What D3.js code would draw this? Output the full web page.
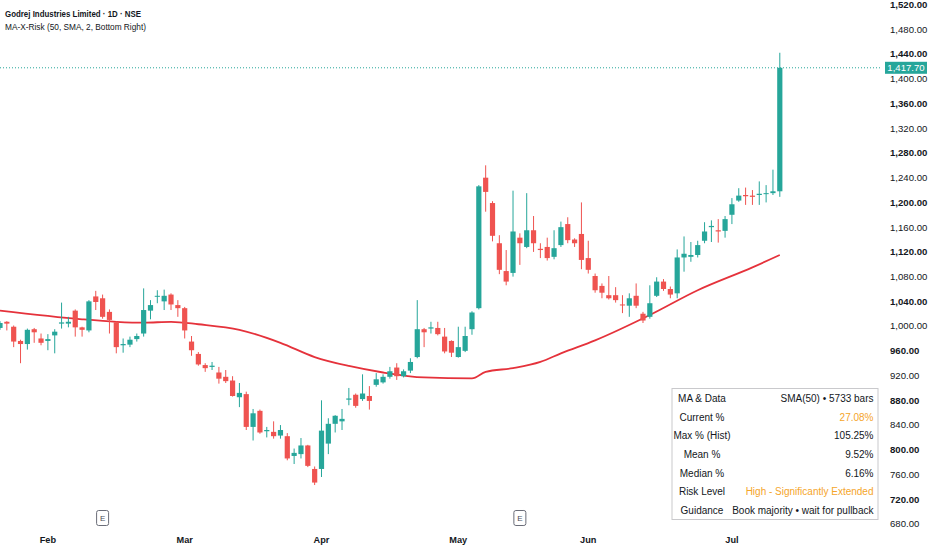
<!DOCTYPE html>
<html><head><meta charset="utf-8">
<script src="https://cdn.jsdelivr.net/npm/d3@7"></script>
<style>html,body{margin:0;padding:0;background:#fff;overflow:hidden} svg{display:block;font-family:"Liberation Sans",Arial,sans-serif;}</style>
</head><body><svg id="c" width="932" height="550"></svg>
<script>
// ---- data ----
const opens  = [997,1007,999,976,971,995,980,976,985,1004,1004,1025,998,993,1048,1045,1023,1006,969,970,
  979,988,1025,1048,1040,1051,1034,1029,975,955,937,934,925,918,912,885,890,837,863,830,
  829,823,822,790,793,807,769,769,810,842,846,881,889,882,887,905,909,918,933,919,
  928,950,995,996,997,983,976,950,960,995,1029,1240,1199,1134,1089,1086,1143,1128,1155,1125,
  1128,1112,1131,1165,1140,1149,1110,1081,1065,1050,1050,1035,1033,1049,1020,1015,1049,1072,1060,1053,
  1111,1112,1115,1138,1160,1155,1154,1180,1203,1212,1211,1212,1214,1215,1218];
const highs  = [1008,1008,1001,978,996,997,988,987,995,1038,1015,1027,999,1042,1057,1051,1027,1008,980,983,
  988,1061,1042,1058,1059,1053,1042,1031,984,958,940,942,934,929,919,908,894,866,865,837,
  846,840,827,802,819,808,773,880,851,856,866,900,891,922,903,924,922,934,940,930,
  948,1042,997,1007,1007,997,977,999,999,1024,1228,1260,1202,1147,1123,1219,1150,1215,1178,1134,
  1143,1155,1169,1176,1142,1200,1138,1085,1069,1081,1063,1050,1053,1069,1023,1066,1079,1076,1064,1124,
  1145,1136,1138,1168,1171,1173,1178,1207,1223,1224,1220,1234,1228,1253,1442];
const lows   = [994,993,966,940,962,973,969,961,956,996,998,983,983,990,1026,1012,988,956,957,966,
  975,983,1011,1037,1026,1026,1015,980,952,936,926,929,907,908,886,869,832,815,826,820,
  818,818,783,777,786,772,743,756,793,828,832,872,868,879,865,902,907,915,913,917,
  924,948,966,988,985,956,950,949,958,986,1027,1185,1137,1084,1066,1080,1099,1126,1120,1110,
  1106,1108,1128,1134,1128,1092,1085,1054,1045,1043,1038,1021,1015,1029,1005,1012,1047,1057,1045,1045,
  1088,1104,1111,1134,1136,1135,1143,1165,1201,1196,1196,1196,1200,1212,1209];
const closes = [1005,1004,975,971,994,990,973,979,991,1006,1007,998,994,1040,1039,1015,1010,966,971,978,
  984,1026,1034,1049,1049,1035,1029,993,961,938,932,936,915,911,887,892,837,859,828,832,
  822,832,786,795,807,774,747,831,842,855,850,883,871,891,879,914,918,927,919,927,
  942,995,990,998,987,959,957,966,984,1022,1226,1217,1146,1091,1072,1153,1134,1155,1134,1123,
  1110,1126,1160,1139,1134,1107,1091,1058,1054,1045,1042,1034,1045,1033,1009,1037,1072,1060,1051,1111,
  1117,1115,1131,1153,1162,1153,1173,1197,1211,1210,1209,1214,1215,1218,1417.7];

// SMA(50) read at sampled bars
const maIdx = [0,12,17,21,25,29,35,41,46,51,56,62,69,71,75,79,82,87,95,102,110,114];
const maVal = [1025,1011,1007,1005.5,1007,1003,994,973,950,935.5,925,917,915.5,926,932,942,956,977,1018,1058,1095,1115];

const monthLabels = ["Feb","Mar","Apr","May","Jun","Jul"];
const monthIdx    = [7,27,47,67,86,107];
const earningsIdx = [15,76];
const yTicks = [680,720,760,800,840,880,920,960,1000,1040,1080,1120,1160,1200,1240,1280,1320,1360,1400,1440,1480,1520];
const lastPrice = 1417.70;

const title    = "Godrej Industries Limited · 1D · NSE";
const subtitle = "MA-X-Risk (50, SMA, 2, Bottom Right)";
const tableLabels = ["MA & Data","Current %","Max % (Hist)","Mean %","Median %","Risk Level","Guidance"];
const tableValues = ["SMA(50) • 5733 bars","27.08%","105.25%","9.52%","6.16%","High - Significantly Extended","Book majority • wait for pullback"];
const tableAccent = [false,true,false,false,false,true,false];

// ---- drawing ----
const UP="#26a69a", DOWN="#ef5350", MA="#e5323b", TXT="#131722", ORANGE="#f5a52a";
const svg = d3.select("#c");
const n = closes.length;
const x = d3.scaleLinear().domain([0, n-1]).range([0, 779.8]);
const y = d3.scaleLinear().domain([680, 1440]).range([524, 54]);
const bw = 5.2;

const plot = svg.append("g");
plot.append("clipPath").attr("id","pc").append("rect").attr("x",0).attr("y",0).attr("width",880).attr("height",550);
const pg = plot.append("g").attr("clip-path","url(#pc)");

// last price dotted line
pg.append("line").attr("x1",0).attr("x2",880).attr("y1",y(lastPrice)).attr("y2",y(lastPrice))
  .attr("stroke",UP).attr("stroke-width",1).attr("stroke-dasharray","1,2");

// MA line
const maPts = maIdx.map((d,i)=>[d, maVal[i]]);
pg.append("path").datum(maPts)
  .attr("d", d3.line().x(d=>x(d[0])).y(d=>y(d[1])).curve(d3.curveMonotoneX))
  .attr("fill","none").attr("stroke",MA).attr("stroke-width",1.8);

// candles
const idx = d3.range(n);
const cg = pg.selectAll("g.c").data(idx).join("g").attr("class","c");
cg.append("line")
  .attr("x1",i=>x(i)).attr("x2",i=>x(i))
  .attr("y1",i=>y(highs[i])).attr("y2",i=>y(lows[i]))
  .attr("stroke",i=>closes[i]>=opens[i]?UP:DOWN).attr("stroke-width",1);
cg.append("rect")
  .attr("x",i=>x(i)-bw/2).attr("width",bw)
  .attr("y",i=>y(Math.max(opens[i],closes[i])))
  .attr("height",i=>Math.max(1, Math.abs(y(opens[i])-y(closes[i]))))
  .attr("fill",i=>closes[i]>=opens[i]?UP:DOWN);

// y axis labels
const yAxis = svg.append("g");
yTicks.forEach(v=>{
  yAxis.append("text").attr("x",890).attr("y",y(v)).attr("dy","0.35em")
    .attr("font-size",9.6).attr("fill",TXT)
    .attr("font-weight", ((1440-v)%80===0)?"bold":"normal")
    .text(d3.format(",.2f")(v));
});
// last price label
svg.append("rect").attr("x",885).attr("y",y(lastPrice)-6).attr("width",42).attr("height",12).attr("fill",UP);
svg.append("text").attr("x",906).attr("y",y(lastPrice)).attr("dy","0.36em").attr("text-anchor","middle")
  .attr("font-size",9.6).attr("fill","#fff").text(d3.format(",.2f")(lastPrice));

// x axis month labels
monthLabels.forEach((m,i)=>{
  svg.append("text").attr("x",x(monthIdx[i])).attr("y",540).attr("dy","0.35em")
    .attr("text-anchor","middle").attr("font-size",9.2).attr("font-weight","bold").attr("fill",TXT).text(m);
});
// earnings markers
earningsIdx.forEach(i=>{
  const g = svg.append("g");
  g.append("rect").attr("x",x(i)-6).attr("y",510.5).attr("width",12).attr("height",15).attr("rx",2)
    .attr("fill","#fff").attr("stroke","#6a6d78").attr("stroke-width",1);
  g.append("text").attr("x",x(i)).attr("y",518).attr("dy","0.35em").attr("text-anchor","middle")
    .attr("font-size",8).attr("fill","#4a4d58").text("E");
});

// header
svg.append("text").attr("x",5).attr("y",16.5).attr("font-size",9.8).attr("font-weight","bold").attr("fill",TXT)
  .attr("textLength",136).attr("lengthAdjust","spacingAndGlyphs").text(title);
svg.append("text").attr("x",5).attr("y",29.5).attr("font-size",9.8).attr("fill",TXT)
  .attr("textLength",141).attr("lengthAdjust","spacingAndGlyphs").text(subtitle);

// table
const tg = svg.append("g");
tg.append("rect").attr("x",672).attr("y",388.5).attr("width",206).attr("height",131)
  .attr("fill","#fff").attr("stroke","#c9c9cc").attr("stroke-width",1);
tableLabels.forEach((lab,i)=>{
  const cy = 398.3 + i*18.7;
  tg.append("text").attr("x",702).attr("y",cy).attr("dy","0.35em").attr("text-anchor","middle")
    .attr("font-size",10).attr("fill",TXT).text(lab);
  tg.append("text").attr("x",873.5).attr("y",cy).attr("dy","0.35em").attr("text-anchor","end")
    .attr("font-size",10).attr("fill",tableAccent[i]?ORANGE:TXT).text(tableValues[i]);
});
</script></body></html>
